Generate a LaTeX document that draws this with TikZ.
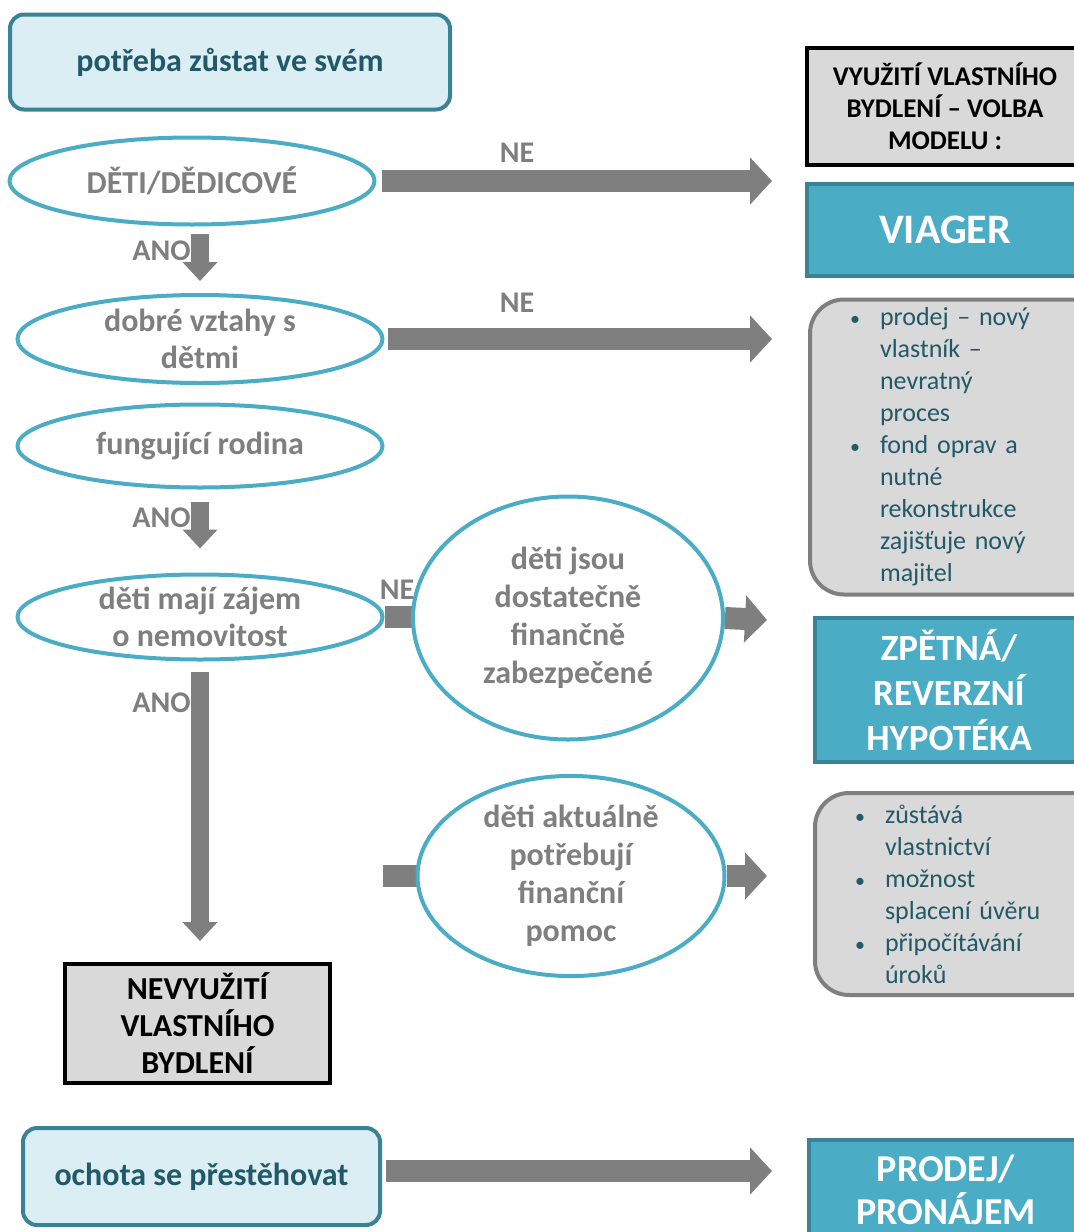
\documentclass[tikz,border=0pt]{standalone}
\usepackage{fontspec}
\setmainfont{Carlito}
\usetikzlibrary{shapes.geometric,arrows.meta}
\definecolor{modra}{HTML}{4BACC6}
\definecolor{modrahrana}{HTML}{3A8397}
\definecolor{svetla}{HTML}{DAEEF3}
\definecolor{tyrkys}{HTML}{215968}
\definecolor{seda}{HTML}{7F7F7F}
\definecolor{sedybox}{HTML}{D9D9D9}
\newcommand{\odr}{\makebox[15pt][l]{\fontsize{10}{10}\selectfont•}}
\newcommand{\odsaz}{\hspace*{15pt}}
\begin{document}
\begin{tikzpicture}[x=0.5pt,y=-0.5pt,
    otazka/.style={ellipse,draw=modra,line width=2pt,fill=white,inner sep=0pt,text=seda,font=\bfseries\fontsize{16}{18.5}\selectfont,align=center},
    svetlybox/.style={rectangle,rounded corners=7pt,draw=modrahrana,line width=2pt,fill=svetla,inner sep=0pt,text=tyrkys,font=\bfseries\fontsize{16}{19}\selectfont},
    modrybox/.style={rectangle,draw=modrahrana,line width=2pt,fill=modra,inner sep=0pt,text=white,align=center,anchor=west},
    cernybox/.style={rectangle,draw=black,line width=2pt,fill=sedybox,inner sep=0pt,text=black,align=center},
    popisbox/.style={rectangle,rounded corners=17pt,draw=seda,line width=2pt,fill=sedybox,anchor=west,inner ysep=0pt,inner xsep=20pt,text width=110pt,align=left,text=tyrkys,font=\fontsize{13}{16}\selectfont},
    sipka/.style={draw=seda,line width=11pt,-{Triangle[width=23pt,length=11pt]}},
    sipkadolu/.style={draw=seda,line width=9pt,-{Triangle[width=17pt,length=9.5pt]}},
    trup/.style={draw=seda,line width=11pt},
    popis/.style={text=seda,inner sep=0pt,font=\bfseries\fontsize{15}{18}\selectfont}]
    \useasboundingbox (0,0) rectangle (1074,1232);
    \clip (0,0) rectangle (1074,1232);
    \node[svetlybox,minimum width=220pt,minimum height=47.5pt] (potreba) at (230,62) {potřeba zůstat ve svém};
    \node[otazka,minimum width=182.5pt,minimum height=43.5pt] (deti) at (192,181) {DĚTI/DĚDICOVÉ};
    \node[otazka,minimum width=182.5pt,minimum height=44pt] (vztahy) at (200,339) {dobré vztahy s\\dětmi};
    \node[otazka,minimum width=182.5pt,minimum height=41.5pt] (rodina) at (200,446) {fungující rodina};
    \node[otazka,minimum width=182.5pt,minimum height=42.5pt] (zajem) at (200,617) {děti mají zájem\\o nemovitost};
    \node[cernybox,minimum width=132.5pt,minimum height=59.5pt,font=\bfseries\fontsize{16}{18.5}\selectfont] (nevyuziti) at (197.5,1023.5) {NEVYUŽITÍ\\VLASTNÍHO\\BYDLENÍ};
    \node[svetlybox,minimum width=178.5pt,minimum height=48.5pt] (ochota) at (201.5,1176.5) {ochota se přestěhovat};
    \node[cernybox,anchor=west,minimum width=138pt,minimum height=58.5pt,font=\bfseries\fontsize{13.5}{16}\selectfont] (volba) at (805,106.5) {VYUŽITÍ VLASTNÍHO\\BYDLENÍ – VOLBA\\MODELU :};
    \node[modrybox,minimum width=138pt,minimum height=46pt,font=\bfseries\fontsize{21}{22}\selectfont] (viager) at (805,230) {VIAGER};
    \node[popisbox,minimum height=147.5pt] (viagerpopis) at (808,447) {\odr prodej – nový\\\odsaz vlastník –\\\odsaz nevratný\\\odsaz proces\\\odr fond oprav a\\\odsaz nutné\\\odsaz rekonstrukce\\\odsaz zajišťuje nový\\\odsaz majitel};
    \node[modrybox,minimum width=134pt,minimum height=72pt,font=\bfseries\fontsize{18.5}{22.5}\selectfont] (hypoteka) at (813,690) {ZPĚTNÁ/\\REVERZNÍ\\HYPOTÉKA};
    \node[popisbox,minimum height=101pt] (hypotekapopis) at (813,894) {\odr zůstává\\\odsaz vlastnictví\\\odr možnost\\\odsaz splacení úvěru\\\odr připočítávání\\\odsaz úroků};
    \node[modrybox,minimum width=137pt,minimum height=50pt,font=\bfseries\fontsize{19}{21.5}\selectfont] (prodej) at (807,1190) {PRODEJ/\\PRONÁJEM};
    \coordinate (c1) at (772,181);
    \coordinate (c2) at (772,339);
    \coordinate (c3) at (767,620);
    \coordinate (c4) at (383,876);
    \coordinate (c5) at (767,876);
    \coordinate (c6) at (772,1171);
    \draw[sipka,shorten <=2.5pt] (deti.east) -- (c1);
    \draw[sipkadolu,shorten <=3.75pt,shorten >=6pt] (deti.south -| vztahy) -- (vztahy.north);
    \draw[sipka,shorten <=1.5pt] (vztahy.east) -- (c2);
    \draw[sipkadolu,shorten <=6pt,shorten >=12pt] (rodina.south) -- (zajem.north);
    \draw[trup] (zajem.east) -- ++(40,0);
    \draw[sipkadolu,shorten <=5pt,shorten >=10.5pt] (zajem.south) -- (zajem.south |- nevyuziti.north);
    \draw[trup] (c4) -- ++(50,0);
    \draw[sipka,shorten <=2pt] (ochota.east |- c6) -- (c6);
    \node[otazka,minimum width=155pt,minimum height=121.5pt,font=\bfseries\fontsize{16}{19}\selectfont] (dostatecne) at (568,618) {děti jsou\\dostatečně\\finančně\\zabezpečené};
    \node[otazka,minimum width=153.5pt,minimum height=96.5pt,font=\bfseries\fontsize{16}{19}\selectfont] (aktualne) at (571,876) {děti aktuálně\\potřebují\\finanční\\pomoc};
    \draw[sipka] (dostatecne.east) -- (c3);
    \draw[sipka] (aktualne.east) -- (c5);
    \node[popis] (ne1) at (517,153) {NE};
    \node[popis] (ne2) at (517,303) {NE};
    \node[popis] (ne3) at (397,590) {NE};
    \node[popis,anchor=east] (ano1) at (191,251) {ANO};
    \node[popis,anchor=east] (ano2) at (191,518) {ANO};
    \node[popis,anchor=east] (ano3) at (191,703) {ANO};
\end{tikzpicture}
\end{document}
